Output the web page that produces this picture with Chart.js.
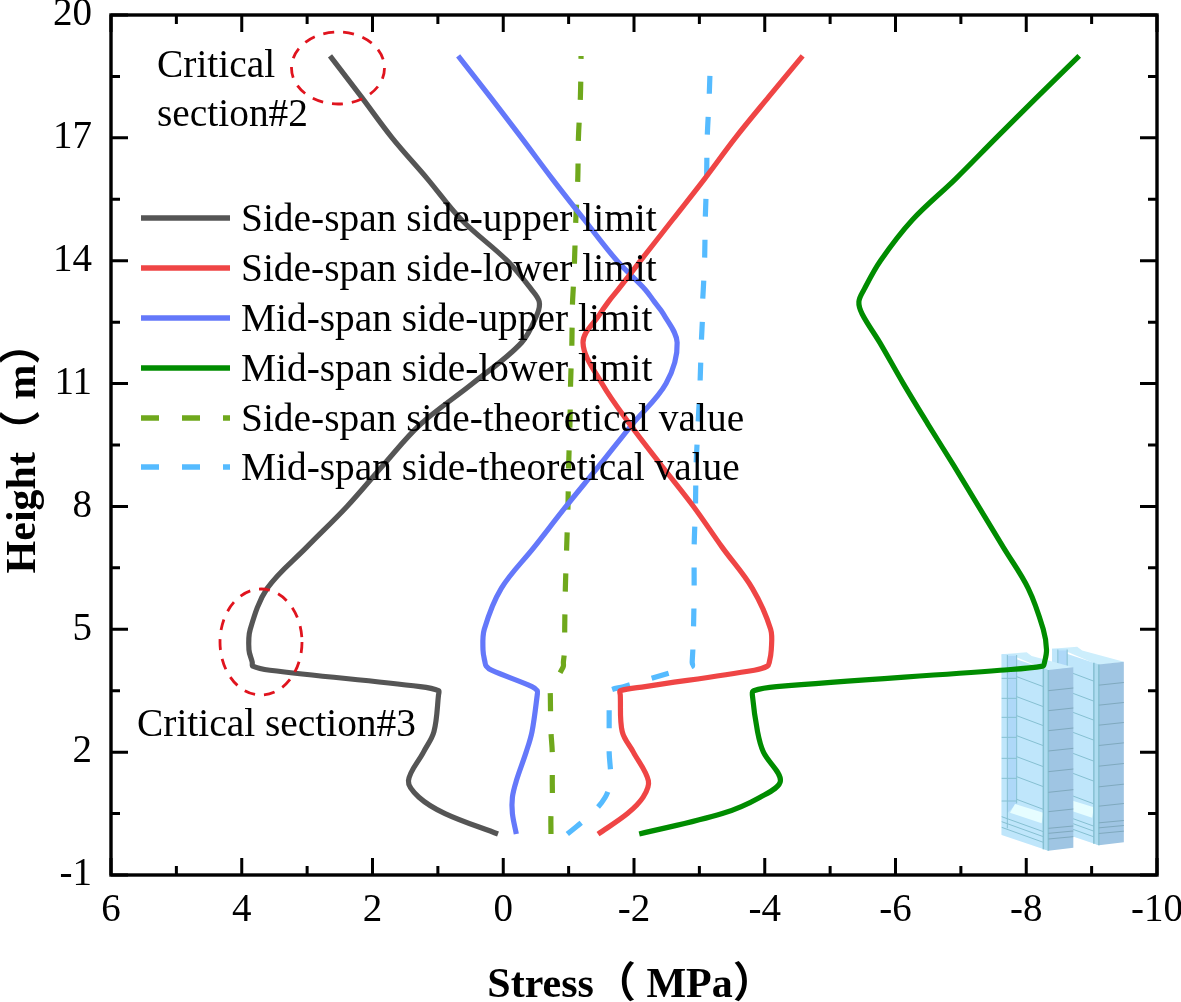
<!DOCTYPE html>
<html><head><meta charset="utf-8">
<style>html,body{margin:0;padding:0;background:#fff}#w{width:1181px;height:1002px;position:relative}</style>
<script src="https://cdn.jsdelivr.net/npm/chart.js@4"></script>
</head><body><div id="w"><canvas id="c" width="1181" height="1002"></canvas></div>
<script>
const heights=[0,0.5,0.9,1.3,2,2.5,3.4,3.5,3.6,4.0,4.1,4.2,4.5,5,6,7,8,9,10,11,12,12.7,13,13.3,14,15,16,17,18,19];
const sideUpper=[0.08,0.89,1.29,1.45,1.22,1.06,0.99,0.99,1.27,3.57,3.83,3.84,3.89,3.87,3.61,3.01,2.39,1.84,1.27,0.47,-0.28,-0.52,-0.55,-0.43,-0.06,0.64,1.16,1.70,2.17,2.65];
const sideLower=[-1.45,-1.90,-2.14,-2.22,-1.99,-1.82,-1.79,-1.79,-2.17,-3.84,-4.04,-4.07,-4.10,-4.09,-3.81,-3.35,-2.91,-2.42,-1.94,-1.51,-1.22,-1.48,-1.61,-1.76,-2.10,-2.59,-3.08,-3.55,-4.06,-4.58];
const midUpper=[-0.20,-0.14,-0.14,-0.20,-0.35,-0.44,-0.52,-0.52,-0.44,0.18,0.26,0.28,0.31,0.29,0.03,-0.47,-0.96,-1.47,-1.97,-2.49,-2.66,-2.45,-2.31,-2.17,-1.74,-1.24,-0.75,-0.28,0.20,0.69];
const midLower=[-2.08,-3.35,-3.93,-4.24,-3.98,-3.89,-3.81,-3.83,-4.18,-7.60,-8.25,-8.28,-8.31,-8.26,-8.03,-7.65,-7.27,-6.89,-6.50,-6.12,-5.76,-5.49,-5.44,-5.52,-5.77,-6.26,-6.92,-7.54,-8.17,-8.81];
const sideTheory=[-0.73,-0.73,-0.75,-0.75,-0.75,-0.73,-0.72,-0.72,-0.75,-0.89,-0.92,-0.92,-0.94,-0.94,-0.95,-0.97,-0.99,-1.00,-1.02,-1.03,-1.05,-1.055,-1.06,-1.07,-1.09,-1.11,-1.14,-1.15,-1.18,-1.19];
const midTheory=[-0.98,-1.35,-1.56,-1.64,-1.62,-1.62,-1.62,-1.62,-1.84,-2.68,-2.89,-2.89,-2.90,-2.91,-2.92,-2.92,-2.94,-2.95,-2.98,-3.01,-3.03,-3.05,-3.05,-3.06,-3.08,-3.09,-3.11,-3.12,-3.15,-3.17];
const seriesNames=["Side-span side-upper limit","Side-span side-lower limit","Mid-span side-upper limit","Mid-span side-lower limit","Side-span side-theoretical value","Mid-span side-theoretical value"];
const seriesValues=[sideUpper,sideLower,midUpper,midLower,sideTheory,midTheory];
const seriesColors=["#555555","#ef4545","#6478fa","#008c00","#6fa81c","#55bbff"];
const seriesDash=[[],[],[],[],[18,23],[18,23]];
const xMajor=[6,4,2,0,-2,-4,-6,-8,-10];
const xMinor=[5,3,1,-1,-3,-5,-7,-9];
const yMajor=[-1,2,5,8,11,14,17,20];
const yMinor=[0.5,3.5,6.5,9.5,12.5,15.5,18.5];
const SERIF='"Liberation Serif","Times New Roman",serif';
const CJK='"Liberation Serif","Noto Sans CJK SC",serif';

function poly(ctx,ox,oy,pts,fill,stroke){
  ctx.beginPath();
  pts.forEach((p,i)=>{const X=ox+p[0]/3,Y=oy+p[1]/3;i?ctx.lineTo(X,Y):ctx.moveTo(X,Y);});
  ctx.closePath();
  if(fill){ctx.fillStyle=fill;ctx.fill();}
  if(stroke){ctx.strokeStyle=stroke;ctx.lineWidth=1;ctx.stroke();}
}
function seg(ctx,ox,oy,a,b,c,w){
  ctx.strokeStyle=c;ctx.lineWidth=w||1;ctx.beginPath();ctx.moveTo(ox+a[0]/3,oy+a[1]/3);ctx.lineTo(ox+b[0]/3,oy+b[1]/3);ctx.stroke();
}
function block(ctx,ox,oy){
  const L='#bfe6fb',D='#9fc5e3',F='#aed8f8',E='#86c0d2';
  poly(ctx,ox,oy,[[125,103],[200,97],[215,108],[340,142],[265,152],[170,112],[125,110]],'#cdeefc');
  poly(ctx,ox,oy,[[125,103],[265,150],[265,692],[125,645]],L);
  poly(ctx,ox,oy,[[125,103],[170,103],[170,555],[145,580],[145,620],[125,645]],L);
  poly(ctx,ox,oy,[[142,108],[170,108],[170,550],[142,580]],F);
  poly(ctx,ox,oy,[[150,578],[165,552],[250,578],[245,610]],'#e6fdff');
  poly(ctx,ox,oy,[[265,150],[340,142],[340,683],[265,692]],D);
  poly(ctx,ox,oy,[[250,145],[265,150],[265,692],[250,687]],'#aedcf0');
  seg(ctx,ox,oy,[142,105],[142,625],E);seg(ctx,ox,oy,[170,105],[170,550],E);seg(ctx,ox,oy,[250,145],[250,688],E,1.5);seg(ctx,ox,oy,[265,150],[265,692],E,1.5);
  [[170,207],[230,267],[287,327],[347,388],[410,450],[470,512],[538,570]].forEach(r=>{
    const y=r[0];
    seg(ctx,ox,oy,[125,y+5],[170,y+5],E);
    seg(ctx,ox,oy,[170,y],[250,y+30],E);
    seg(ctx,ox,oy,[265,r[1]+5],[340,r[1]-3],'#7fa9be');
  });
  [[590,625],[605,640],[622,657]].forEach(r=>{seg(ctx,ox,oy,[125,r[0]],[250,r[1]+10],E);seg(ctx,ox,oy,[265,r[1]],[340,r[1]-7],'#7fa9be');});
}
const decorPlugin={id:'decor',
 beforeDatasetsDraw(chart){
  const ctx=chart.ctx;ctx.save();
  block(ctx,960+50.5,620-5.5);
  block(ctx,960,620);
  ctx.restore();
 },
 afterDatasetsDraw(chart){
  const ctx=chart.ctx,x=chart.scales.x,y=chart.scales.y,a=chart.chartArea;
  ctx.save();
  ctx.strokeStyle='#000';ctx.lineWidth=3.4;ctx.setLineDash([]);
  ctx.strokeRect(a.left,a.top,a.right-a.left,a.bottom-a.top);
  const tick=(v,len)=>{const p=x.getPixelForValue(v);ctx.beginPath();ctx.moveTo(p,a.bottom);ctx.lineTo(p,a.bottom-len);ctx.moveTo(p,a.top);ctx.lineTo(p,a.top+len);ctx.stroke();};
  const ytick=(v,len)=>{const p=y.getPixelForValue(v);ctx.beginPath();ctx.moveTo(a.left,p);ctx.lineTo(a.left+len,p);ctx.moveTo(a.right,p);ctx.lineTo(a.right-len,p);ctx.stroke();};
  ctx.lineWidth=3;
  xMajor.forEach(v=>tick(v,17));xMinor.forEach(v=>tick(v,9));
  yMajor.forEach(v=>ytick(v,17));yMinor.forEach(v=>ytick(v,9));
  ctx.strokeStyle='#e0141e';ctx.lineWidth=2.8;ctx.setLineDash([11,9]);
  ctx.beginPath();ctx.ellipse(338,68,46.5,36,0,0,Math.PI*2);ctx.stroke();
  ctx.beginPath();ctx.ellipse(261,642,41,53,0,0,Math.PI*2);ctx.stroke();
  ctx.textBaseline='alphabetic';ctx.textAlign='left';ctx.fillStyle='#000';ctx.font='39.4px '+SERIF;
  const ly=[218,268,318,368,418,467];
  seriesNames.forEach((n,i)=>{
    ctx.strokeStyle=seriesColors[i];ctx.lineWidth=5.5;ctx.setLineDash(seriesDash[i]);
    ctx.beginPath();ctx.moveTo(141,ly[i]);ctx.lineTo(230,ly[i]);ctx.stroke();
    ctx.fillText(n,241,ly[i]+13);
  });
  ctx.fillText('Critical',157,77);
  ctx.fillText('section#2',157,126);
  ctx.fillText('Critical section#3',137,736);
  ctx.font='bold 42px '+CJK;ctx.textAlign='center';
  ctx.fillText('Stress（ MPa）',631,997);
  ctx.translate(35,448);ctx.rotate(-Math.PI/2);
  ctx.fillText('Height（ m）',0,0);
  ctx.restore();
 }};
const noPad=s=>{s.paddingTop=0;s.paddingBottom=0;s.paddingLeft=0;s.paddingRight=0;};
new Chart(document.getElementById('c'),{
 type:'scatter',
 data:{datasets:seriesNames.map((n,i)=>({
  label:n,
  data:heights.map((h,j)=>({x:seriesValues[i][j],y:h})),
  showLine:true,borderColor:seriesColors[i],backgroundColor:seriesColors[i],
  borderWidth:5.2,borderDash:seriesDash[i],tension:0.35,pointRadius:0,fill:false
 }))},
 options:{
  responsive:false,animation:false,
  layout:{padding:{left:0,top:15,right:24,bottom:0}},
  plugins:{legend:{display:false},tooltip:{enabled:false},title:{display:false}},
  scales:{
   x:{type:'linear',reverse:true,min:-10,max:6,position:'bottom',
    grid:{display:false,drawTicks:false},border:{display:false},
    afterFit(s){s.height=127;noPad(s);},
    afterBuildTicks(s){s.ticks=xMajor.map(v=>({value:v}));},
    ticks:{color:'#000',font:{family:SERIF,size:39},padding:12,maxRotation:0,autoSkip:false,callback:v=>String(v)}},
   y:{type:'linear',min:-1,max:20,position:'left',
    grid:{display:false,drawTicks:false},border:{display:false},
    afterFit(s){s.width=111;noPad(s);},
    afterBuildTicks(s){s.ticks=yMajor.map(v=>({value:v}));},
    ticks:{color:'#000',font:{family:SERIF,size:39},padding:19,autoSkip:false,callback:v=>String(v)}}
  }
 },
 plugins:[decorPlugin]
});
</script></body></html>
